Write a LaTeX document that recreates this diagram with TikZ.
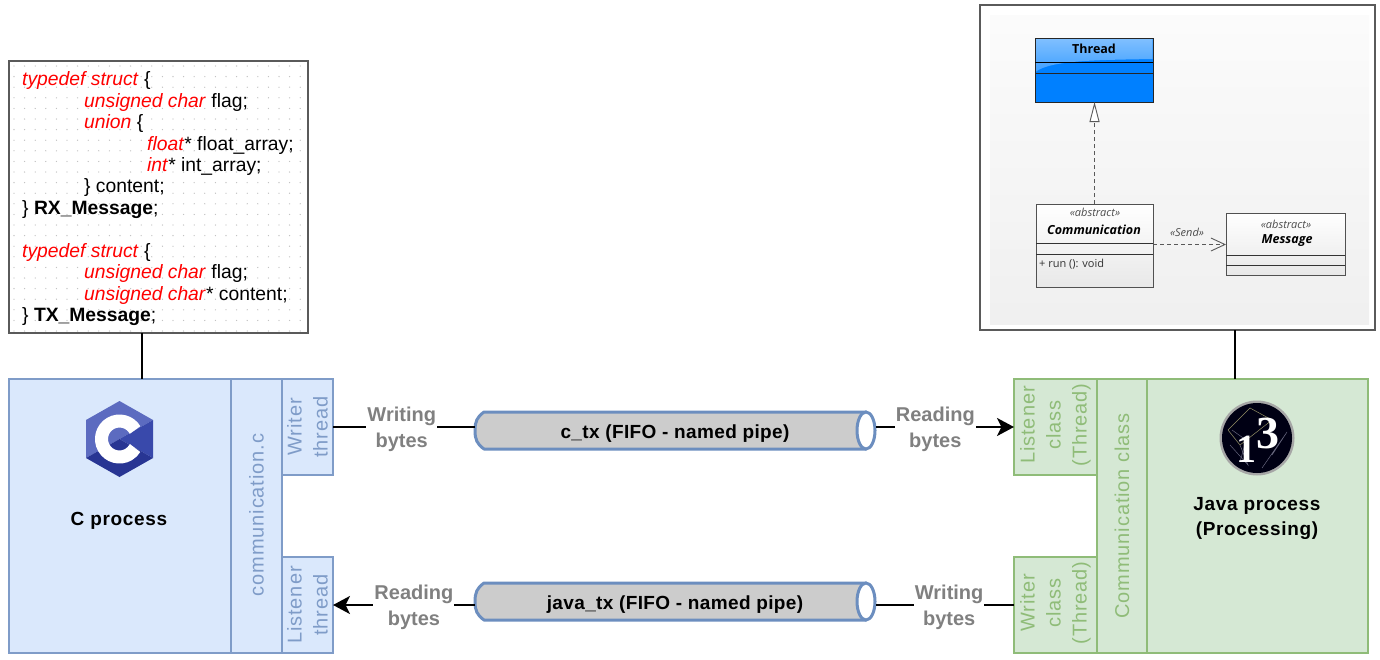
\documentclass[tikz,border=0pt]{standalone}
\usepackage{fontspec}
\setmainfont{Liberation Sans}
\newfontfamily\spacedA[LetterSpace=4.5]{Liberation Sans}
\newfontfamily\spacedB[LetterSpace=3.5]{Liberation Sans}
\newfontfamily\spacedC[LetterSpace=2]{Liberation Sans}
\newfontfamily\umlfont{Open Sans}
\newfontfamily\logoserif{Liberation Serif}
\usetikzlibrary{arrows.meta,shadows,calc}
\definecolor{cfill}{HTML}{DAE8FC}
\definecolor{cline}{HTML}{7F9CC8}
\definecolor{ctext}{HTML}{7F9CC8}
\definecolor{jfill}{HTML}{D5E8D4}
\definecolor{jline}{HTML}{8FBC78}
\definecolor{jtext}{HTML}{8FBC78}
\definecolor{pipeline}{HTML}{6C8EBF}
\definecolor{pipefill}{HTML}{CCCCCC}
\definecolor{lblgray}{HTML}{808080}
\definecolor{frame}{HTML}{5A5A5A}
\definecolor{tblue}{HTML}{0080FF}
\definecolor{codered}{HTML}{FF0000}
\newcommand{\kw}[1]{\textcolor{codered}{\textit{#1}}}
\newcommand{\pipebody}[1]{%
  \draw[draw=pipeline,fill=pipefill,line width=3pt,line join=round]
    ($(#1.north west)+(9,0)$) -- ($(#1.north east)+(-10,0)$) -- ($(#1.south east)+(-10,0)$) -- ($(#1.south west)+(9,0)$)
    .. controls ($(#1.south west)+(2,-5)$) and ($(#1.west)+(0,9)$) .. (#1.west)
    .. controls ($(#1.west)+(0,-9)$) and ($(#1.north west)+(2,5)$) .. ($(#1.north west)+(9,0)$) -- cycle;
  \draw[draw=pipeline,fill=white,line width=3pt] ($(#1.east)+(-10,0)$) ellipse [x radius=9pt,y radius=18.5pt];
}
\tikzset{
  sz/.style 2 args={minimum width=#1pt,minimum height=#2pt,inner sep=0pt,outer sep=0pt},
  cbox/.style={rectangle,draw=cline,fill=cfill,line width=1.3pt},
  jbox/.style={rectangle,draw=jline,fill=jfill,line width=1.3pt},
  ctxt/.style={rotate=90,align=center,text=ctext,inner sep=0pt,font=\spacedA\fontsize{20}{26}\selectfont},
  jtxt/.style={rotate=90,align=center,text=jtext,inner sep=0pt,font=\spacedA\fontsize{20}{26}\selectfont},
  title/.style={align=center,inner sep=0pt,font=\spacedB\fontsize{19}{25}\selectfont\bfseries},
  lbl/.style={align=center,fill=white,inner sep=1pt,yshift=-2.5pt,text=lblgray,font=\fontsize{20}{26}\selectfont\bfseries},
  link/.style={draw=black,line width=2.2pt},
  flow/.style={draw=black,line width=2.5pt},
  arrowed/.style={-{Stealth[length=17pt,width=18pt,inset=4.5pt]}},
  pipeanchor/.style={rectangle,sz={401}{37}},
  pipetext/.style={inner sep=0pt,font=\spacedC\fontsize{19}{22}\selectfont\bfseries},
  umlbox/.style={rectangle,draw=frame!90!black,line width=1pt,top color=white,bottom color=black!9,
    drop shadow={shadow xshift=1.2pt,shadow yshift=-1.2pt,opacity=.3,fill=black}},
  umlrule/.style={draw=black!80,line width=.8pt},
  umltxt/.style={inner sep=0pt,text=black!70,font=\umlfont\fontsize{11}{13}\selectfont\itshape},
  umlname/.style={inner sep=0pt,font=\umlfont\fontsize{12.5}{15}\selectfont\bfseries\itshape},
  umldash/.style={draw=black!65,line width=.9pt,dash pattern=on 4pt off 3pt},
}
\begin{document}
\begin{tikzpicture}[x=1pt,y=-1pt]
\useasboundingbox (0,0) rectangle (1380,659);

% code box
\node[rectangle,draw=frame,fill=white,line width=2pt,sz={299}{272}] (codebox) at (158.5,197) {};
\foreach \i in {0,...,27}{\foreach \j in {0,...,25}{
  \fill[black!26] ({14+10.6*\i},{66+10.6*\j}) circle (.65pt);}}
\node[anchor=north west,align=left,inner sep=0pt,font=\fontsize{19.3}{21.45}\selectfont] (code) at (22,71.5) {%
\kw{typedef struct} \{\\
\hspace*{62pt}\kw{unsigned char} flag;\\
\hspace*{62pt}\kw{union} \{\\
\hspace*{125pt}\kw{float}* float\_array;\\
\hspace*{125pt}\kw{int}* int\_array;\\
\hspace*{62pt}\} content;\\
\} \textbf{RX\_Message};\\
\mbox{}\\
\kw{typedef struct} \{\\
\hspace*{62pt}\kw{unsigned char} flag;\\
\hspace*{62pt}\kw{unsigned char}* content;\\
\} \textbf{TX\_Message};};

% UML picture
\node[rectangle,draw=frame,fill=white,line width=2pt,sz={395}{325}] (umlframe) at (1177.5,167.5) {};
\shade[top color=black!1.5,bottom color=black!6] (990,15) rectangle (1369,324);

\node[rectangle,draw=black!80,fill=tblue,line width=1pt,sz={118}{64},
  drop shadow={shadow xshift=1.2pt,shadow yshift=-1.2pt,opacity=.3,fill=black}] (thread) at (1094,70) {};
\shade[top color=tblue!50!white,bottom color=tblue!75!white]
  (1035.5,38.5) -- (1152.5,38.5) -- (1152.5,59) .. controls (1100,60) and (1050,60) .. (1035.5,72) -- cycle;
\draw[umlrule,draw=black!85] (thread.north west) rectangle (thread.south east);
\draw[umlrule,draw=black] (1035,62) -- (1153,62);
\draw[umlrule,draw=black!85] (1035,73) -- (1153,73);
\node[inner sep=0pt,font=\umlfont\fontsize{12.5}{15}\selectfont\bfseries] (threadname) at (1094,48.5) {Thread};

\node[umlbox,sz={117}{83}] (comm) at (1094.5,245.5) {};
\draw[umlrule] (1036,243) -- (1153,243);
\draw[umlrule] (1036,254) -- (1153,254);
\node[umltxt] (commst) at (1095,212) {«abstract»};
\node[umlname] (commname) at (1094,230) {Communication};
\node[anchor=west,inner sep=0pt,text=black!80,font=\umlfont\fontsize{11}{13}\selectfont] (commop) at (1039,264) {+ run (): void};

\node[umlbox,sz={119}{62}] (msg) at (1285.5,244) {};
\draw[umlrule] (1226,255) -- (1345,255);
\draw[umlrule] (1226,265) -- (1345,265);
\node[umltxt] (msgst) at (1286,224) {«abstract»};
\node[umlname] (msgname) at (1287,240.5) {Message};

\draw[umldash,-{Triangle[open,length=20pt,width=10pt,fill=white]}] (comm.north) -- (comm.north |- thread.south);
\draw[umldash,-{Straight Barb[length=14pt,width=13pt]}] (1153,244.5) -- (1226,244.5);
\node[umltxt] (send) at (1187,232.5) {«Send»};

% process boxes
\node[cbox,sz={222}{274}] (cmain) at (120,516) {};
\node[cbox,sz={51}{274},label={[ctxt,xshift=1pt]center:communication.c}] (ccomm) at (256.5,516) {};
\node[cbox,sz={51}{96},label={[ctxt]center:{Writer\\thread}}] (cwriter) at (307.5,427) {};
\node[cbox,sz={51}{96},label={[ctxt]center:{Listener\\thread}}] (clistener) at (307.5,605) {};

\node[jbox,sz={221}{274}] (jmain) at (1257.5,516) {};
\node[jbox,sz={50}{274},label={[jtxt]center:Communication class}] (jcomm) at (1122,516) {};
\node[jbox,sz={83}{96},label={[jtxt,xshift=2pt]center:{Listener\\class\\(Thread)}}] (jlistener) at (1055.5,427) {};
\node[jbox,sz={83}{96},label={[jtxt,xshift=2pt]center:{Writer\\class\\(Thread)}}] (jwriter) at (1055.5,605) {};

% C logo
\fill[fill={rgb,255:red,92;green,107;blue,192}] (119.5,401) -- (153,420) -- (119.5,439) -- (86,458) -- (86,420) -- cycle;
\fill[fill={rgb,255:red,57;green,73;blue,171}] (153,420) -- (153,458) -- (119.5,439) -- cycle;
\fill[fill={rgb,255:red,40;green,53;blue,147}] (153,458) -- (119.5,477) -- (86,458) -- (119.5,439) -- cycle;
\draw[white,line width=13pt] (119.5,439) ++(30:18pt) arc[start angle=30,end angle=330,radius=18pt];
\node[title] (cproc) at (119,520.5) {C process};

% Processing logo
\fill[black!35] (1257,438) circle (37.5pt);
\fill[black!92!blue] (1257,438) circle (35pt);
\begin{scope}[line width=.5pt]
\draw[yellow!40!black!80!white] (1228,430) -- (1250,408) -- (1272,420) -- (1240,445) -- (1228,430);
\draw[blue!15!black!60!white] (1240,445) -- (1248,465) -- (1230,445);
\draw[blue!15!black!60!white] (1272,455) -- (1287,432) -- (1262,468);
\draw[blue!15!black!60!white] (1232,430) -- (1246,440) -- (1240,462);
\end{scope}
\node[anchor=base,inner sep=0pt,text=white,font=\logoserif\bfseries\fontsize{40}{40}\selectfont] (logo) at (1258,462)
  {1\raisebox{14pt}{\fontsize{46}{46}\selectfont 3}};
\node[title] (jproc) at (1257,518.5) {Java process\\(Processing)};

% vertical links
\draw[link] ([xshift=-16.5pt]codebox.south) -- ([xshift=22pt]cmain.north);
\draw[link] ([xshift=57.5pt]umlframe.south) -- ([xshift=-22.5pt]jmain.north);

% pipes
\node[pipeanchor] (ctx) at (675.5,430.5) {};
\pipebody{ctx}
\node[pipetext] (ctxname) at (675,434) {c\_tx (FIFO - named pipe)};
\node[pipeanchor] (jtx) at (675.5,601.5) {};
\pipebody{jtx}
\node[pipetext] (jtxname) at (675,605) {java\_tx (FIFO - named pipe)};

% flows
\draw[flow] (cwriter.east) -- node[lbl,pos=.484] {Writing\\bytes} (cwriter.east -| ctx.west);
\draw[flow,arrowed] (jlistener.west -| ctx.east) -- node[lbl,pos=.43] {Reading\\bytes} (jlistener.west);
\draw[flow,arrowed] (clistener.east -| jtx.west) -- node[lbl,pos=.43] {Reading\\bytes} (clistener.east);
\draw[flow] (jwriter.west) -- node[lbl,pos=.47] {Writing\\bytes} (jwriter.west -| jtx.east);
\end{tikzpicture}
\end{document}
